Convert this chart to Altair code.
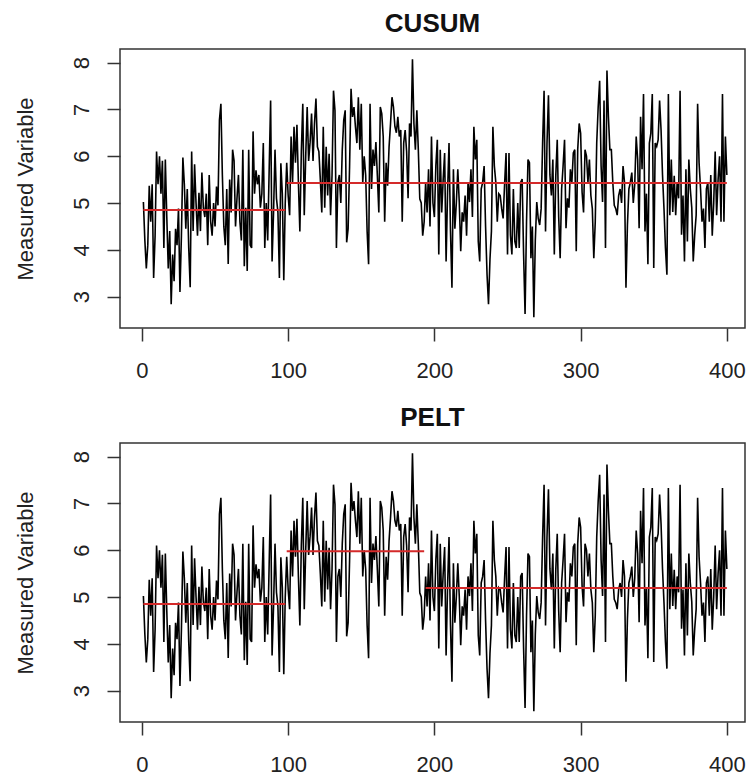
import altair as alt
import pandas as pd

# ---- data ----
index = list(range(1, 401))
values = [
    # 1-98
    5.02, 4.20, 3.60, 4.10, 5.37, 4.60, 5.40, 3.40, 4.30, 6.10,
    5.40, 6.00, 5.20, 5.90, 4.04, 5.93, 4.70, 3.60, 4.40, 2.84,
    3.90, 3.33, 4.45, 4.10, 4.88, 3.10, 4.30, 5.97, 5.40, 4.45,
    5.30, 4.04, 3.20, 6.10, 4.40, 5.83, 5.00, 4.30, 5.22, 4.40,
    5.65, 4.90, 4.70, 5.20, 4.10, 5.60, 4.60, 4.30, 5.00, 4.50,
    5.35, 4.95, 6.77, 7.12, 5.60, 4.50, 4.10, 5.30, 3.70, 5.50,
    4.80, 6.14, 5.90, 4.50, 5.10, 5.60, 4.60, 4.20, 6.14, 3.65,
    4.90, 3.55, 6.14, 4.10, 4.04, 6.53, 5.20, 5.70, 5.40, 5.60,
    4.90, 5.20, 6.28, 4.04, 5.00, 4.20, 5.70, 7.19, 3.75, 4.80,
    6.14, 5.10, 4.80, 3.40, 5.85, 5.20, 3.35, 5.00,
    # 99-193
    5.86, 5.16, 4.74, 6.42, 5.44, 6.63, 5.86, 6.67, 5.44, 4.39,
    6.10, 7.12, 4.74, 6.00, 7.05, 5.90, 6.30, 6.91, 5.90, 6.70,
    7.23, 6.20, 6.10, 5.50, 4.80, 6.63, 4.90, 6.20, 5.16, 6.05,
    4.74, 5.60, 7.40, 6.98, 4.04, 5.44, 5.60, 5.00, 6.14, 6.77,
    6.98, 4.16, 4.45, 5.79, 7.44, 6.84, 7.05, 6.63, 6.28, 7.26,
    6.14, 7.12, 5.44, 6.00, 5.60, 4.39, 3.69, 7.12, 5.30, 6.14,
    5.79, 6.30, 5.58, 4.80, 7.05, 6.91, 6.42, 4.60, 5.86, 5.37,
    6.20, 6.70, 7.26, 7.05, 6.63, 6.50, 6.84, 6.42, 6.56, 4.60,
    6.28, 6.56, 6.10, 5.10, 6.70, 6.42, 8.07, 6.70, 6.14, 6.98,
    6.14, 5.09, 5.00, 4.30, 4.60,
    # 194-400
    5.44, 4.80, 5.72, 4.50, 6.42, 5.00, 4.70, 5.80, 6.35, 3.90,
    6.14, 4.80, 5.50, 6.07, 3.75, 5.23, 6.28, 4.40, 3.19, 5.72,
    4.45, 5.00, 5.72, 5.02, 3.97, 4.80, 4.60, 5.16, 4.30, 5.44,
    5.02, 5.72, 4.70, 6.63, 5.93, 6.35, 4.18, 3.75, 5.30, 5.44,
    5.79, 4.50, 3.47, 2.84, 3.80, 4.40, 6.63, 5.79, 5.44, 4.60,
    5.20, 5.16, 4.88, 4.67, 5.40, 6.07, 3.90, 6.07, 4.31, 3.90,
    5.30, 4.18, 4.04, 5.00, 4.04, 5.44, 5.51, 3.90, 2.63, 4.60,
    5.93, 5.86, 3.82, 4.50, 2.56, 4.20, 5.02, 4.67, 4.53, 4.88,
    6.28, 7.40, 4.39, 6.28, 7.30, 5.60, 5.16, 5.93, 3.90, 5.58,
    6.35, 4.70, 3.82, 5.30, 5.79, 6.35, 4.46, 5.10, 4.90, 5.72,
    5.44, 6.07, 6.14, 3.97, 6.14, 6.70, 6.49, 5.23, 4.80, 6.14,
    6.00, 5.44, 5.93, 5.16, 4.88, 3.82, 4.60, 6.28, 7.05, 7.61,
    5.79, 5.02, 7.19, 4.04, 7.83, 6.84, 6.14, 6.14, 5.44, 4.95,
    4.88, 4.74, 5.16, 5.30, 5.00, 5.79, 5.44, 3.19, 4.53, 5.30,
    5.44, 5.65, 5.00, 5.40, 6.42, 5.93, 4.46, 6.84, 5.72, 7.33,
    4.39, 5.20, 3.69, 6.28, 6.49, 7.33, 3.61, 6.28, 6.21, 6.35,
    7.19, 6.56, 5.60, 4.88, 4.04, 3.47, 7.33, 4.74, 5.93, 4.81,
    5.58, 4.74, 5.44, 5.10, 7.40, 4.32, 5.16, 3.75, 5.72, 4.18,
    5.93, 5.30, 4.90, 3.75, 4.32, 4.74, 7.12, 5.86, 5.30, 4.60,
    4.88, 4.04, 5.30, 5.44, 4.60, 5.60, 4.30, 5.00, 6.10, 4.74,
    5.50, 6.00, 4.60, 7.33, 4.60, 6.42, 5.60,
]

cusum_start = [1, 99]
cusum_end = [98, 400]
cusum_mean = [4.85, 5.43]

pelt_start = [1, 99, 194]
pelt_end = [98, 193, 400]
pelt_mean = [4.85, 5.98, 5.19]

x_ticks = [0, 100, 200, 300, 400]
y_ticks = [3, 4, 5, 6, 7, 8]

df = pd.DataFrame({"t": index, "v": values})

FONT = "Liberation Sans"
W, H = 625, 279


def panel(title, starts, ends, means):
    xs = alt.Scale(domain=[-15, 412.4], nice=False, zero=False)
    ys = alt.Scale(domain=[2.33, 8.29], nice=False, zero=False)
    x_axis = alt.Axis(
        values=x_ticks, title=None, domain=False, grid=False,
        tickSize=13, tickWidth=1.5, tickColor="#333",
        labelPadding=19, labelFontSize=22, labelFont=FONT, labelColor="#222",
        labelFlush=False, labelOverlap=False, labelBaseline="top", format="d",
    )
    y_axis = alt.Axis(
        values=y_ticks, title="Measured Variable", domain=False, grid=False,
        tickSize=13, tickWidth=1.5, tickColor="#333",
        labelAngle=270, labelAlign="center", labelBaseline="bottom",
        labelPadding=14, labelFontSize=22, labelFont=FONT, labelColor="#222",
        labelFlush=False, labelOverlap=False, format="d",
        titleFontSize=22, titleFont=FONT, titleFontWeight="normal", titleColor="#222",
        titleAngle=270, titleX=-88, titleY=H / 2, titleAlign="center",
        titleBaseline="alphabetic",
    )
    line = alt.Chart(df).mark_line(color="black", strokeWidth=1.6).encode(
        x=alt.X("t:Q", scale=xs, axis=x_axis),
        y=alt.Y("v:Q", scale=ys, axis=y_axis),
    )
    segs = pd.DataFrame({"s": starts, "e": ends, "m": means})
    seg = alt.Chart(segs).mark_rule(color="#d42a2a", strokeWidth=2).encode(
        x=alt.X("s:Q", scale=xs, axis=x_axis),
        x2="e:Q",
        y=alt.Y("m:Q", scale=ys, axis=y_axis),
    )
    return alt.layer(line, seg).properties(
        width=W, height=H,
        title=alt.TitleParams(title, fontSize=26, fontWeight="bold", font=FONT,
                              anchor="middle", offset=12, color="#111"),
    )


chart = alt.vconcat(
    panel("CUSUM", cusum_start, cusum_end, cusum_mean),
    panel("PELT", pelt_start, pelt_end, pelt_mean),
    spacing=22,
).properties(
    padding={"left": 5, "top": 2, "right": 0, "bottom": 0},
    background="white",
).configure_view(stroke="#333", strokeWidth=1.5)

chart.save("out.html", embed_options={"renderer": "svg", "actions": False})
